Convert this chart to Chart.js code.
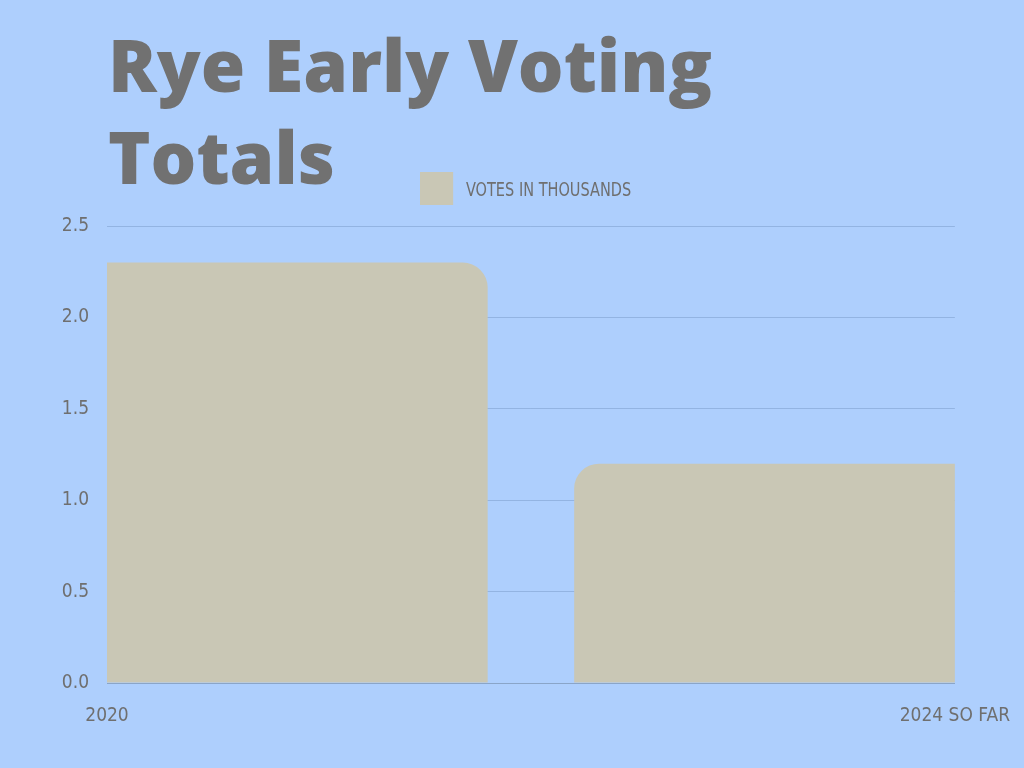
<!DOCTYPE html>
<html><head><meta charset="utf-8">
<script src="https://cdn.jsdelivr.net/npm/chart.js@4"></script>
<style>
html,body{margin:0;padding:0;background:#aecffd;width:1024px;height:768px;overflow:hidden}
#wrap{position:absolute;left:0;top:0;width:1024px;height:768px}
#title{position:absolute;left:108px;top:18px;font-family:"Open Sans",sans-serif;font-weight:800;font-size:72px;line-height:92px;color:#717171;margin:0}
#legend{position:absolute;left:420px;top:172px;display:flex;align-items:center;font-family:"DejaVu Sans Condensed","Liberation Sans Narrow",sans-serif;font-size:19px;color:#6f6f6f;transform:scaleX(0.85);transform-origin:left center}
#legend span.box{display:inline-block;width:39px;height:33px;background:#c9c7b5;margin-right:15px}
</style></head><body>
<div id="wrap"><canvas id="c" width="1024" height="768"></canvas></div>
<h1 id="title">Rye Early Voting<br>Totals</h1>
<div id="legend"><span class="box"></span><span id="lt"></span></div>
<script>
const categories = ["2020", "2024 SO FAR"];
const seriesLabel = "VOTES IN THOUSANDS";
const votes = [2.3, 1.2];
const yTicks = [0, 0.5, 1.0, 1.5, 2.0, 2.5];
document.getElementById('lt').textContent = seriesLabel;
const font = {family:'"DejaVu Sans Condensed","Liberation Sans Narrow",sans-serif', size:19};
new Chart(document.getElementById('c'), {
  type:'bar',
  data:{labels:categories, datasets:[{label:seriesLabel, data:votes, backgroundColor:'#c9c7b5',
    borderRadius:{topLeft:25, topRight:25, bottomLeft:0, bottomRight:0}, borderSkipped:'bottom',
    barPercentage:0.898, categoryPercentage:1}]},
  options:{responsive:false, animation:false,
    layout:{padding:{top:226, right:62, left:0, bottom:0}},
    plugins:{legend:{display:false}, tooltip:{enabled:false}},
    scales:{
      y:{min:0,max:2.5,
        afterBuildTicks:s=>{s.ticks=yTicks.map(v=>({value:v}));},
        afterFit:s=>{s.width=107;},
        ticks:{font, color:'#6f6f6f', padding:18, callback:v=>Number(v).toFixed(1)},
        grid:{color:'#93b4e2', drawTicks:false}, border:{display:false}},
      x:{offset:false,
        afterBuildTicks:s=>{s.min=-0.449; s.max=1.449;},
        afterFit:s=>{s.height=85;},
        ticks:{font, color:'#6f6f6f', padding:14},
        grid:{display:false}, border:{color:'#8aa5c8'}}
    }}
});
</script></body></html>
